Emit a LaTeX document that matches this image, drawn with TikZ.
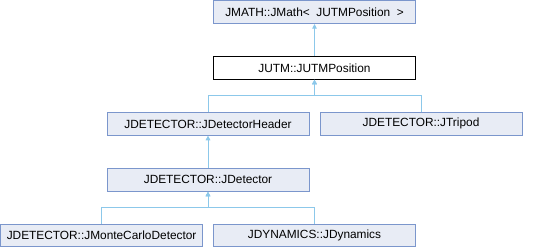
\documentclass[tikz,border=0pt]{standalone}
\usepackage{fontspec}
\setmainfont{Liberation Sans}
\usetikzlibrary{arrows.meta}
\definecolor{boxfill}{HTML}{E8ECF5}
\definecolor{boxdraw}{HTML}{7B96CC}
\definecolor{edgecol}{HTML}{8CC8EA}
\tikzset{
  cls/.style={draw=boxdraw, fill=boxfill, line width=0.75pt, minimum width=151.5pt, minimum height=17pt, inner sep=0pt, font=\fontsize{8.9}{10}\selectfont},
  cur/.style={cls, draw=black, fill=white},
  edge/.style={draw=edgecol, line width=0.75pt, -{Triangle[length=3.5pt,width=3.5pt]}},
}
\begin{document}
\begin{tikzpicture}[x=0.75pt,y=-0.75pt]
\useasboundingbox (0,0) rectangle (545,248);
\node[cls] (jmath) at (314.5,12.2) {JMATH::JMath<\ \ JUTMPosition\ \ >};
\node[cur] (jutm) at (314.5,67.8) {JUTM::JUTMPosition};
\node[cls] (header) at (208,123.8) {JDETECTOR::JDetectorHeader};
\node[cls] (tripod) at (421,123.8) {JDETECTOR::JTripod};
\node[cls] (detector) at (208,179.8) {JDETECTOR::JDetector};
\node[cls] (monte) at (101.6,235.6) {JDETECTOR::JMonteCarloDetector};
\node[cls] (dyn) at (314.5,235.6) {JDYNAMICS::JDynamics};
\draw[edge] (jutm.north) -- (jmath.south);
\draw[edge] (header.north) -- ++(0,-16) -| (jutm.south);
\draw[edge] (tripod.north) -- ++(0,-16) -| (jutm.south);
\draw[edge] (detector.north) -- (header.south);
\draw[edge] (monte.north) -- ++(0,-16) -| (detector.south);
\draw[edge] (dyn.north) -- ++(0,-16) -| (detector.south);
\end{tikzpicture}
\end{document}
